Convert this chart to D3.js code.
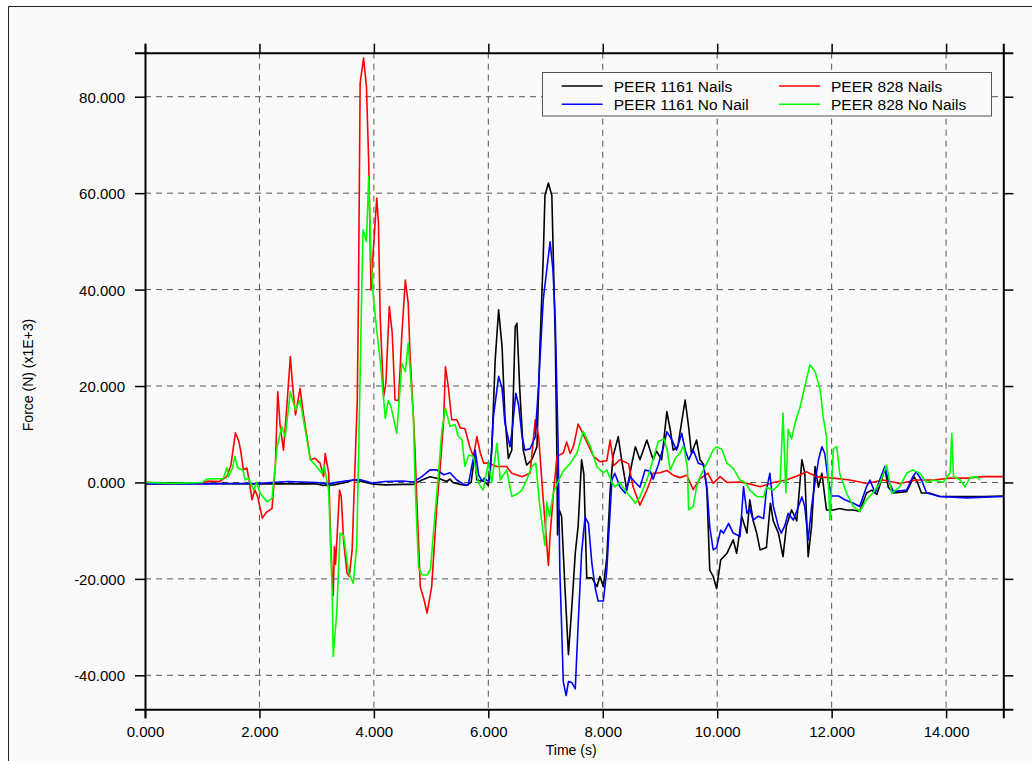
<!DOCTYPE html>
<html>
<head>
<meta charset="utf-8">
<script src="https://cdn.jsdelivr.net/npm/d3@7"></script>
<style>
    html, body { margin: 0; padding: 0; background: #ffffff; }
    svg { display: block; font-family: "Liberation Sans", Arial, sans-serif; }
</style>
</head>
<body>
<div id="chart"></div>
<script>
// Data: [time (s), force (x1E+3 N)]
const peer1161Nails = [
    [0, 0], [1.0, -0.2], [2.0, -0.3], [3.0, -0.3], [3.1, -0.6], [3.3, -0.5], [3.5, 0], [3.64, 0.5],
    [3.75, 0.3], [3.97, -0.3], [4.2, -0.5], [4.5, -0.4], [4.69, -0.4], [4.84, 0.5], [4.98, 1.2],
    [5.16, 0.7], [5.27, 0.2], [5.33, 0.7], [5.38, 0], [5.51, -0.4], [5.62, -0.6], [5.70, 0],
    [5.76, 5.5], [5.80, 0.5], [5.93, 0.2], [6.0, -0.6], [6.06, 6.7], [6.12, 25.4], [6.18, 35.8],
    [6.24, 28.2], [6.29, 13.7], [6.35, 5], [6.41, 6.7], [6.47, 32.3], [6.50, 33], [6.55, 19.2],
    [6.61, 6.7], [6.67, 3.6], [6.76, 4.7], [6.85, 7.4], [6.90, 27.5], [6.96, 46.8], [6.99, 59.5],
    [7.05, 62.1], [7.11, 59.5], [7.17, 29.9], [7.20, 4], [7.21, -10.9], [7.24, -5.7], [7.28, -7],
    [7.34, -22], [7.40, -35.7], [7.46, -25.7], [7.52, -14.6], [7.57, -9], [7.63, 4.7], [7.67, 1.7],
    [7.72, -19.8], [7.81, -19.8], [7.90, -21.6], [7.95, -19.5], [8.01, -21.6], [8.07, -15.7],
    [8.13, -1.6], [8.18, 5.4], [8.27, 9.5], [8.33, 4.7], [8.42, -1.6], [8.51, 4], [8.57, 7.4],
    [8.65, 4.7], [8.77, 8.8], [8.88, 4.7], [8.94, 6.5], [9.03, 4.7], [9.12, 14.7], [9.18, 10.9],
    [9.23, 6.7], [9.31, 7.4], [9.44, 17.1], [9.50, 11.6], [9.55, 6], [9.64, 8.8], [9.70, 4.7],
    [9.76, 3.8], [9.82, -1.6], [9.87, -18.2], [9.93, -19.5], [9.99, -22], [10.06, -16.1],
    [10.17, -14.7], [10.28, -11.9], [10.34, -14.7], [10.43, -7.1], [10.52, -10.5], [10.57, -3.6],
    [10.63, -8], [10.69, -10.5], [10.75, -14], [10.86, -13.5], [10.93, -4.3], [10.98, -8],
    [11.07, -10.5], [11.15, -15.4], [11.21, -9], [11.30, -5.7], [11.39, -8], [11.48, 4.7],
    [11.53, 2], [11.59, -15.4], [11.65, -9], [11.71, 3.3], [11.77, -1], [11.83, 1.9], [11.91, -5.7],
    [12.03, -5.7], [12.14, -5.4], [12.26, -5.7], [12.38, -5.7], [12.49, -6], [12.61, -2.2],
    [12.70, -1.6], [12.79, -2.5], [12.87, 0.5], [12.93, 2.9], [12.99, -1], [13.08, -2.2],
    [13.31, -1.9], [13.44, 1.2], [13.50, 0], [13.57, -2.2], [13.71, -2.2], [13.89, -2.9],
    [14.24, -2.9], [14.65, -2.9], [15.0, -2.8]
];

const peer828Nails = [
    [0, -0.3], [0.5, -0.3], [1.0, -0.2], [1.1, 0.3], [1.3, 0.2], [1.43, 1.2], [1.5, 3.5], [1.58, 10.3],
    [1.64, 8.5], [1.67, 6.7], [1.72, 2.6], [1.78, 3.0], [1.82, 0.5], [1.87, -3.6], [1.92, -1.5],
    [1.97, -3.0], [2.05, -7.4], [2.12, -6.2], [2.22, -5.4], [2.28, 4.0], [2.32, 18.8], [2.36, 12],
    [2.42, 6.7], [2.48, 16], [2.54, 26.1], [2.58, 20], [2.63, 14.0], [2.71, 19.5], [2.77, 14],
    [2.83, 9.5], [2.89, 4.7], [2.97, 5.0], [3.06, 4.0], [3.12, 1.2], [3.15, 6.0], [3.21, 2.0],
    [3.25, -14], [3.29, -23.5], [3.31, -13.3], [3.33, -17], [3.36, -10.5], [3.40, -1.6], [3.43, -3],
    [3.47, -12], [3.53, -18.8], [3.57, -19.5], [3.62, -14], [3.67, 3.3], [3.71, 17], [3.73, 37.9],
    [3.76, 82.8], [3.82, 88.0], [3.87, 82.1], [3.91, 66.2], [3.95, 39.9], [3.99, 48.2], [4.05, 59.0],
    [4.08, 53.8], [4.11, 34.4], [4.17, 17.8], [4.21, 20.6], [4.27, 36.5], [4.32, 31], [4.37, 17.1],
    [4.43, 17], [4.49, 31], [4.55, 42.0], [4.60, 37.2], [4.63, 27], [4.69, 13.7], [4.72, 6.5],
    [4.75, -3.6], [4.78, -12], [4.81, -21.6], [4.87, -24], [4.93, -27.1], [5.01, -21.6], [5.10, -5.0],
    [5.16, 3.3], [5.22, 13.0], [5.25, 24.0], [5.30, 19.9], [5.36, 13.0], [5.45, 13], [5.51, 11.3],
    [5.59, 11.2], [5.68, 7.2], [5.74, 5.4], [5.80, 9.5], [5.86, 6.1], [5.92, 4.0], [6.0, 4],
    [6.15, 3.3], [6.32, 3.3], [6.41, 1.9], [6.59, 1.2], [6.73, 1.9], [6.82, 13], [6.88, 9.5],
    [6.95, -2], [7.05, -17.2], [7.08, -10.9], [7.14, -2], [7.20, 5.4], [7.31, 6.1], [7.37, 8.4],
    [7.43, 6], [7.49, 7.6], [7.57, 12.1], [7.63, 10.7], [7.72, 8.4], [7.84, 5.4], [7.95, 4.3],
    [8.07, 4.5], [8.13, 8.8], [8.19, 3.5], [8.30, 4.7], [8.45, 3.9], [8.53, -0.9], [8.65, -4.7],
    [8.77, -1.6], [8.88, 1.9], [9.0, 2], [9.12, 2.5], [9.23, 1.5], [9.35, 1], [9.47, 1.5],
    [9.58, -1.5], [9.70, 0.8], [9.84, 1.9], [9.93, -0.2], [10.05, 1.2], [10.17, 0], [10.4, 0.1],
    [10.6, -0.4], [10.75, -0.9], [10.98, 0], [11.21, 0.5], [11.45, 1.6], [11.56, 2.2], [11.74, 1.2],
    [12.03, 0.9], [12.32, 0.5], [12.61, -0.2], [12.9, 0.5], [13.19, -0.2], [13.48, 0.5],
    [13.78, 0.5], [14.07, 0.9], [14.36, 0.9], [14.65, 1.2], [15.0, 1.2]
];

const peer1161NoNail = [
    [0, -0.3], [1.0, -0.3], [2.0, -0.2], [2.5, 0.2], [3.0, 0], [3.2, -0.3], [3.5, 0.3], [3.64, 0.5],
    [3.75, 0.6], [3.97, -0.1], [4.2, 0.2], [4.5, 0.3], [4.69, 0.1], [4.84, 1.2], [4.98, 2.6],
    [5.10, 2.6], [5.22, 1.6], [5.33, 2], [5.45, 0.5], [5.57, -0.4], [5.65, -0.5], [5.71, 3.3],
    [5.77, 6.7], [5.83, 1.6], [5.89, 0.2], [5.93, 0.9], [6.0, 0.2], [6.03, 1.0], [6.09, 13.7],
    [6.18, 22], [6.24, 19.6], [6.29, 12.3], [6.38, 7.4], [6.43, 12.3], [6.48, 18.5], [6.53, 16],
    [6.59, 9.5], [6.64, 6.7], [6.73, 7], [6.82, 9.5], [6.88, 20.6], [6.96, 37.9], [7.03, 45],
    [7.08, 49.9], [7.13, 44], [7.17, 33.6], [7.22, 7.6], [7.25, -18.3], [7.28, -29.4], [7.31, -41.3],
    [7.36, -44.2], [7.40, -41.3], [7.46, -41.5], [7.52, -42.8], [7.57, -29.4], [7.63, -14.6],
    [7.69, -7.2], [7.75, -8.5], [7.81, -16.8], [7.87, -22], [7.92, -24.6], [8.01, -24.6],
    [8.07, -18.3], [8.10, -11.9], [8.16, 0.5], [8.21, 1.9], [8.30, -0.9], [8.39, -2.2], [8.48, 1.2],
    [8.57, 0], [8.65, -1], [8.74, 2.6], [8.83, 2.3], [8.88, 0.7], [8.97, 3.6], [9.06, 7.4],
    [9.12, 10.5], [9.21, 8.8], [9.29, 6.7], [9.38, 10.2], [9.44, 6.7], [9.50, 4.7], [9.58, 6.7],
    [9.67, 4], [9.76, 3.6], [9.82, -0.9], [9.87, -9.2], [9.93, -14], [9.99, -13.5], [10.06, -9.9],
    [10.11, -10.5], [10.2, -8.5], [10.28, -10.5], [10.40, -11.2], [10.46, -0.9], [10.52, -6.4],
    [10.57, -5.5], [10.63, -7.8], [10.72, -7], [10.81, -7.5], [10.86, -1.6], [10.92, 1.9],
    [10.98, -4.9], [11.07, -9.2], [11.12, -10.5], [11.18, -9], [11.24, -6.4], [11.33, -7.8],
    [11.42, -5], [11.48, -3], [11.53, -5], [11.59, -11.9], [11.65, -5], [11.71, 0], [11.77, 4.7],
    [11.83, 7.4], [11.88, 6], [11.94, 0.5], [12.0, -2.8], [12.12, -2.8], [12.23, -3.6],
    [12.38, -4.3], [12.49, -5], [12.61, -0.9], [12.67, 0.5], [12.76, -2.2], [12.84, 0.5],
    [12.93, 3.3], [12.99, 0.5], [13.08, -1.9], [13.31, -1.6], [13.42, 1.2], [13.48, 2.2],
    [13.57, 0.5], [13.66, -2.2], [13.89, -2.9], [14.36, -3.2], [15.0, -2.9]
];

const peer828NoNails = [
    [0, 0], [0.5, -0.2], [1.0, 0], [1.08, 0.7], [1.37, 0.8], [1.43, 3.1], [1.46, 1.2], [1.53, 3],
    [1.57, 5.4], [1.62, 3], [1.71, 2.6], [1.75, 0.5], [1.81, 0.9], [1.90, -1.6], [1.95, 0],
    [2.01, -2.2], [2.13, -4.0], [2.22, -3.3], [2.31, 7.4], [2.39, 11.6], [2.45, 9.5], [2.54, 18.8],
    [2.63, 15], [2.71, 17.1], [2.80, 10.9], [2.89, 4.7], [3.0, 3.3], [3.09, 1.9], [3.13, 3.5],
    [3.21, -1.6], [3.27, -22.3], [3.29, -36.1], [3.35, -27.1], [3.41, -10.5], [3.47, -11],
    [3.56, -18.8], [3.64, -20.9], [3.70, -13], [3.74, 10], [3.78, 35], [3.81, 52.4], [3.87, 50],
    [3.91, 63.4], [3.95, 46.8], [3.99, 38.5], [4.05, 31.6], [4.11, 25.4], [4.20, 13.3], [4.25, 17],
    [4.30, 15.7], [4.40, 10.2], [4.49, 24.7], [4.55, 23], [4.60, 28.9], [4.63, 24], [4.69, 13.7],
    [4.72, 0], [4.78, -17.5], [4.84, -19.2], [4.93, -19.2], [4.99, -18], [5.04, -10.5], [5.13, 1.9],
    [5.19, 10.9], [5.25, 15.4], [5.33, 11.6], [5.42, 12], [5.47, 9.7], [5.54, 8.8], [5.59, 3.3],
    [5.66, 5.7], [5.74, 5.4], [5.83, -0.2], [5.91, -1.6], [6.0, 4], [6.06, 0], [6.15, 8.1],
    [6.21, 0.5], [6.32, 2.6], [6.41, -2.9], [6.50, -2.4], [6.59, -1.6], [6.67, 0.5], [6.76, 3.3],
    [6.83, 4], [6.90, -5], [6.99, -13.1], [7.02, -4], [7.07, -7], [7.14, -2], [7.22, 0.2],
    [7.31, 2.4], [7.43, 3.9], [7.55, 6.1], [7.66, 10.6], [7.78, 7.6], [7.90, 3.2], [8.01, 2.0],
    [8.07, 2.6], [8.16, 0], [8.21, -0.9], [8.30, 0], [8.39, -1.6], [8.48, -2.9], [8.57, -4.3],
    [8.65, -3], [8.77, 0.5], [8.88, 4.7], [8.97, 8.5], [9.07, 9], [9.12, 7], [9.18, 2.6], [9.27, 5],
    [9.35, 6.1], [9.41, 7.6], [9.48, 3], [9.50, -5.7], [9.58, -5], [9.64, -0.9], [9.70, 1.2],
    [9.82, 4], [9.93, 6.7], [9.99, 7.4], [10.08, 6.9], [10.17, 4], [10.28, 2.9], [10.40, 0.5],
    [10.49, 0], [10.57, -1.6], [10.69, -2.9], [10.81, -3], [10.86, -1], [10.98, -1.6], [11.10, -0.2],
    [11.15, 14.4], [11.20, -2.2], [11.24, 11], [11.30, 9], [11.36, 12.3], [11.45, 15.7],
    [11.53, 19.9], [11.62, 24.4], [11.71, 23], [11.80, 19.2], [11.83, 16], [11.85, 13.7],
    [11.91, 9.5], [11.97, -7.8], [12.03, 7], [12.09, 7.4], [12.14, 1.9], [12.26, -2.2],
    [12.38, -5.0], [12.49, -6.0], [12.61, -3.6], [12.72, -2.2], [12.84, -0.2], [12.96, 3.6],
    [13.05, -2.2], [13.19, -0.9], [13.31, 1.9], [13.42, 2.6], [13.54, 1.9], [13.66, 0], [13.78, 0.5],
    [13.95, 0], [14.07, 2], [14.10, 10.2], [14.13, 1.2], [14.25, 0.5], [14.33, -0.9], [14.42, 1],
    [14.53, 1.2], [14.59, 0.5]
];

const seriesNames = ["PEER 1161 Nails", "PEER 828 Nails", "PEER 1161 No Nail", "PEER 828 No Nails"];
const seriesColors = ["#000000", "#ff0000", "#0000ff", "#00ff00"];
const xTicks = [0, 2, 4, 6, 8, 10, 12, 14];
const yTicks = [-40, -20, 0, 20, 40, 60, 80];
const xDomain = [0, 15];
const yDomain = [-47.05, 89.13];

const width = 1032, height = 761;
const margin = { top: 52.7, right: 28.7, bottom: 51.7, left: 145 };
const innerWidth = width - margin.left - margin.right;
const innerHeight = height - margin.top - margin.bottom;

const svg = d3.select("#chart").append("svg")
    .attr("width", width)
    .attr("height", height);

// outer panel: light fill, border only visible on top and left
svg.append("rect")
    .attr("x", 8).attr("y", 6)
    .attr("width", width - 8).attr("height", height - 6)
    .attr("fill", "#fafafa");

svg.append("path")
    .attr("d", `M8.5,${height}V6.5H${width}`)
    .attr("fill", "none")
    .attr("stroke", "#222")
    .attr("stroke-width", 1);

const g = svg.append("g")
    .attr("transform", `translate(${margin.left},${margin.top})`);

const x = d3.scaleLinear().domain(xDomain).range([0, innerWidth]);
const y = d3.scaleLinear().domain(yDomain).range([innerHeight, 0]);

// Grid
g.append("g")
    .selectAll("line")
    .data(xTicks.filter(d => d > 0))
    .enter().append("line")
    .attr("x1", d => x(d)).attr("x2", d => x(d))
    .attr("y1", 0).attr("y2", innerHeight)
    .attr("stroke", "#555")
    .attr("stroke-dasharray", "6,5");

g.append("g")
    .selectAll("line")
    .data(yTicks)
    .enter().append("line")
    .attr("x1", 0).attr("x2", innerWidth)
    .attr("y1", d => y(d)).attr("y2", d => y(d))
    .attr("stroke", "#555")
    .attr("stroke-dasharray", "6,5");

// Series
g.append("clipPath").attr("id", "plot-clip")
    .append("rect").attr("width", innerWidth).attr("height", innerHeight);

const line = d3.line().x(d => x(d[0])).y(d => y(d[1]));
const allSeries = [peer1161Nails, peer828Nails, peer1161NoNail, peer828NoNails];

g.append("g")
    .attr("clip-path", "url(#plot-clip)")
    .selectAll("path")
    .data(allSeries)
    .enter().append("path")
    .attr("d", line)
    .attr("fill", "none")
    .attr("stroke", (d, i) => seriesColors[i])
    .attr("stroke-width", 1.6)
    .attr("stroke-linejoin", "round");

// Axes (ticks outside on all four sides), plain hyphen for negatives
const fmt = d => d.toFixed(3);

g.append("g")
    .attr("transform", `translate(0,${innerHeight})`)
    .call(d3.axisBottom(x).tickValues(xTicks).tickFormat(fmt).tickSize(9))
    .selectAll("text")
    .attr("y", 28).attr("dy", null)
    .attr("text-anchor", "middle")
    .attr("fill", "#000")
    .attr("font-size", "15px");

g.append("g")
    .call(d3.axisTop(x).tickValues(xTicks).tickFormat("").tickSize(9))
    .selectAll("text").remove();

g.append("g")
    .call(d3.axisLeft(y).tickValues(yTicks).tickFormat(fmt).tickSize(10))
    .selectAll("text")
    .attr("x", -20).attr("y", 5.5).attr("dy", null)
    .attr("text-anchor", "end")
    .attr("fill", "#000")
    .attr("font-size", "15px");

g.append("g")
    .attr("transform", `translate(${innerWidth},0)`)
    .call(d3.axisRight(y).tickValues(yTicks).tickFormat("").tickSize(10))
    .selectAll("text").remove();

g.selectAll(".domain").attr("stroke", "#000").attr("stroke-width", 2);
g.selectAll(".tick line").attr("stroke", "#000").attr("stroke-width", 1.5);

// Axis titles
svg.append("text")
    .attr("x", margin.left + innerWidth / 2 - 3)
    .attr("y", 755)
    .attr("text-anchor", "middle")
    .attr("font-size", "14px")
    .text("Time (s)");

svg.append("text")
    .attr("transform", "translate(33,375) rotate(-90)")
    .attr("text-anchor", "middle")
    .attr("font-size", "14px")
    .text("Force (N) (x1E+3)");

// Legend
const legend = svg.append("g");
legend.append("rect")
    .attr("x", 542.5).attr("y", 72.5)
    .attr("width", 449).attr("height", 43.5)
    .attr("fill", "#fafafa")
    .attr("stroke", "#555");

const legendCols = [561.7, 779];
const legendRows = [86, 104.3];
const legendItems = legend.selectAll("g.item")
    .data(seriesNames)
    .enter().append("g")
    .attr("class", "item")
    .attr("transform", (d, i) => `translate(${legendCols[i % 2]},${legendRows[Math.floor(i / 2)]})`);

legendItems.append("line")
    .attr("x1", 0).attr("x2", 41)
    .attr("stroke", (d, i) => seriesColors[i])
    .attr("stroke-width", 1.6);

legendItems.append("text")
    .attr("x", 52)
    .attr("y", 5.5)
    .attr("text-anchor", "start")
    .attr("font-size", "15.5px")
    .text(d => d);
</script>
</body>
</html>
